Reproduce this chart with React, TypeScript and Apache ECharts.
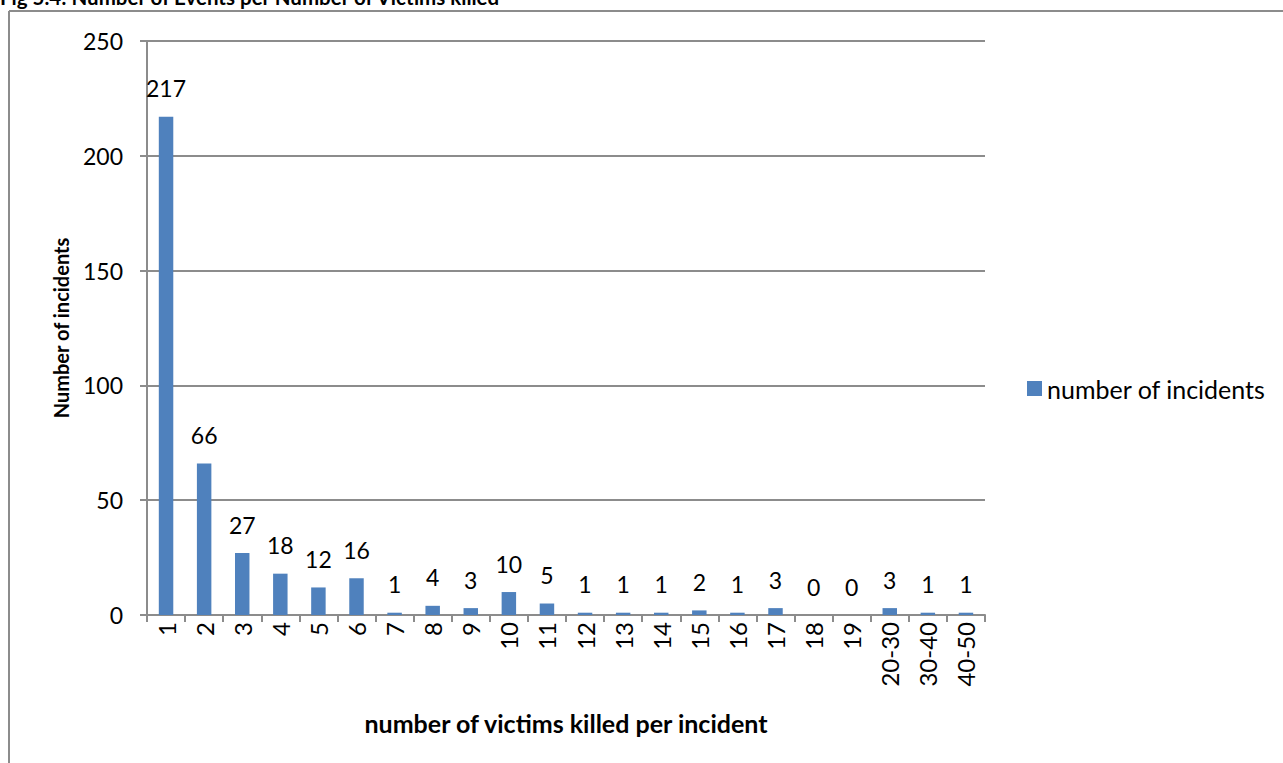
import React, { useEffect, useRef } from "react";
import * as echarts from "echarts";

const categories = ["1","2","3","4","5","6","7","8","9","10","11","12","13","14","15","16","17","18","19","20-30","30-40","40-50"];
const values = [217,66,27,18,12,16,1,4,3,10,5,1,1,1,2,1,3,0,0,3,1,1];
const yTicks = { min: 0, max: 250, interval: 50 };
const seriesName = "number of incidents";
const titleText = "Fig 5.4: Number of Events per Number of Victims killed";
const xName = "number of victims killed per incident";
const yName = "Number of incidents";

const FONT = "Lato, 'Open Sans', sans-serif";

export default function App() {
  const ref = useRef<HTMLDivElement>(null);
  useEffect(() => {
    if (!ref.current) return;
    const chart = echarts.init(ref.current, null, { renderer: "svg" });
    chart.setOption({
      animation: false,
      backgroundColor: "#ffffff",
      textStyle: { fontFamily: FONT },
      graphic: [
        { type: "line", shape: { x1: 9, y1: 11, x2: 1283, y2: 11 }, style: { stroke: "#8c8c8c", lineWidth: 2 } },
        { type: "line", shape: { x1: 9, y1: 11, x2: 9, y2: 763 }, style: { stroke: "#8c8c8c", lineWidth: 2 } },
        { type: "text", left: 0, top: -14, style: { text: titleText, font: `bold 20.5px ${FONT}`, fill: "#000" } },
      ],
      legend: {
        data: [seriesName],
        left: 1022,
        top: 371,
        itemWidth: 15,
        itemHeight: 15,
        itemGap: 8,
        icon: "rect",
        textStyle: { fontSize: 25, color: "#000", fontFamily: FONT },
      },
      grid: { left: 147, top: 41, width: 838, height: 574, containLabel: false },
      xAxis: {
        type: "category",
        data: categories,
        name: xName,
        nameLocation: "middle",
        nameGap: 95,
        nameTextStyle: { fontSize: 25, fontWeight: "bold", color: "#000", fontFamily: FONT },
        axisLine: { lineStyle: { color: "#8c8c8c", width: 2 } },
        axisTick: { show: true, length: 7, lineStyle: { color: "#8c8c8c", width: 2 }, alignWithLabel: false },
        axisLabel: { rotate: 90, fontSize: 24, color: "#000", margin: 7, interval: 0, fontFamily: FONT },
      },
      yAxis: {
        type: "value",
        min: yTicks.min,
        max: yTicks.max,
        interval: yTicks.interval,
        name: yName,
        nameLocation: "middle",
        nameGap: 76,
        nameTextStyle: { fontSize: 20, fontWeight: "bold", color: "#000", fontFamily: FONT },
        axisLine: { show: true, lineStyle: { color: "#8c8c8c", width: 2 } },
        axisTick: { show: true, length: 7, lineStyle: { color: "#8c8c8c", width: 2 } },
        axisLabel: { fontSize: 23, color: "#000", margin: 24, fontFamily: FONT },
        splitLine: { lineStyle: { color: "#8c8c8c", width: 2 } },
      },
      series: [
        {
          name: seriesName,
          type: "bar",
          data: values,
          barWidth: "38%",
          itemStyle: { color: "#4f81bd" },
          label: { show: true, position: "top", distance: 17, fontSize: 23, color: "#000", fontFamily: FONT },
        },
      ],
    });
    return () => chart.dispose();
  }, []);
  return <div ref={ref} style={{ position: "fixed", left: 0, top: 0, width: 1283, height: 763 }} />;
}
